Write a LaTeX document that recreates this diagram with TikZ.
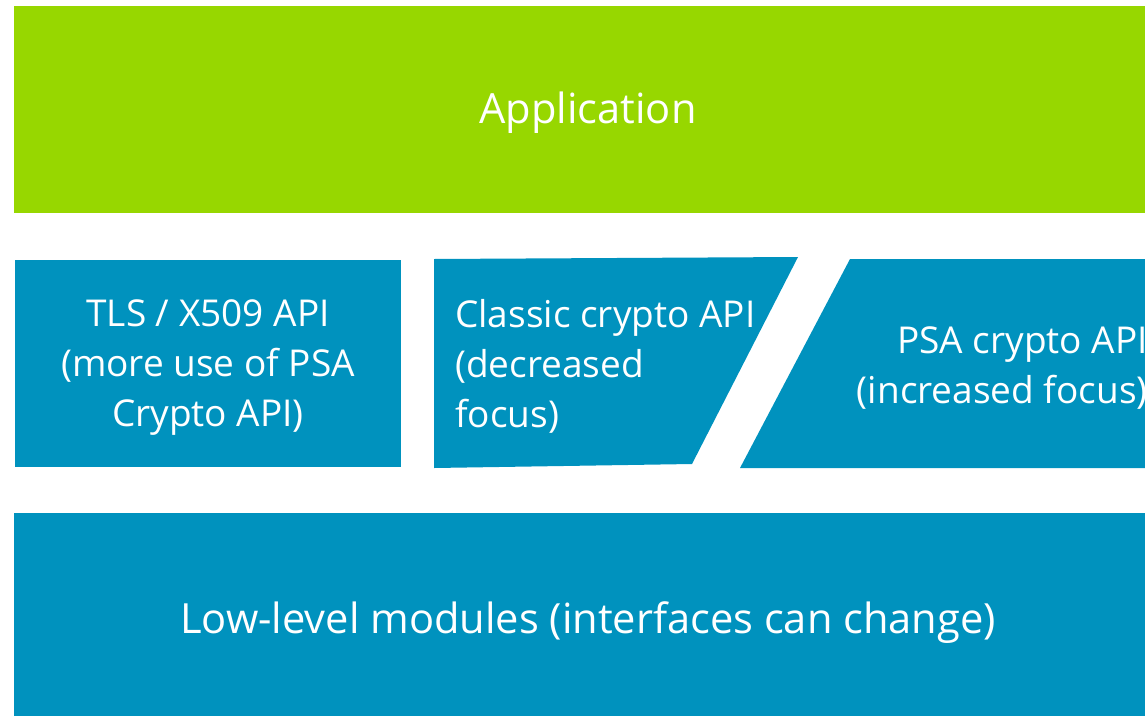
\documentclass[tikz,border=0pt]{standalone}
\usepackage{fontspec}
\setmainfont{Open Sans}
\definecolor{appgreen}{RGB}{151,215,0}
\definecolor{apiblue}{RGB}{0,146,190}
\begin{document}
\begin{tikzpicture}[x=1pt,y=-1pt,
  lbl/.style={text=white,font=\fontsize{37}{50}\selectfont,inner sep=0pt,align=center},
  big/.style={lbl,font=\fontsize{41.6}{50}\selectfont}]
\useasboundingbox (0,0) rectangle (1145,715);
\fill[appgreen] (14,6) rectangle (1160,213);
\fill[apiblue] (15,260) rectangle (401,467);
\fill[apiblue] (434,259) -- (798,257) -- (692,464) -- (434,468) -- cycle;
\fill[apiblue] (850,259) -- (1160,259) -- (1160,468) -- (740,468) -- cycle;
\fill[apiblue] (14,513) rectangle (1160,720);
\node[big] (app) at (588,113) {Application};
\node[lbl] (tls) at (208,368) {TLS / X509 API\\(more use of PSA\\Crypto API)};
\node[lbl,align=left,anchor=west] (classic) at (455,366) {Classic crypto API\\(decreased\\focus)};
\node[lbl,align=right,anchor=east] (psa) at (1148,368) {PSA crypto API\\(increased focus)};
\node[big] (low) at (588,623) {Low-level modules (interfaces can change)};
\end{tikzpicture}
\end{document}
